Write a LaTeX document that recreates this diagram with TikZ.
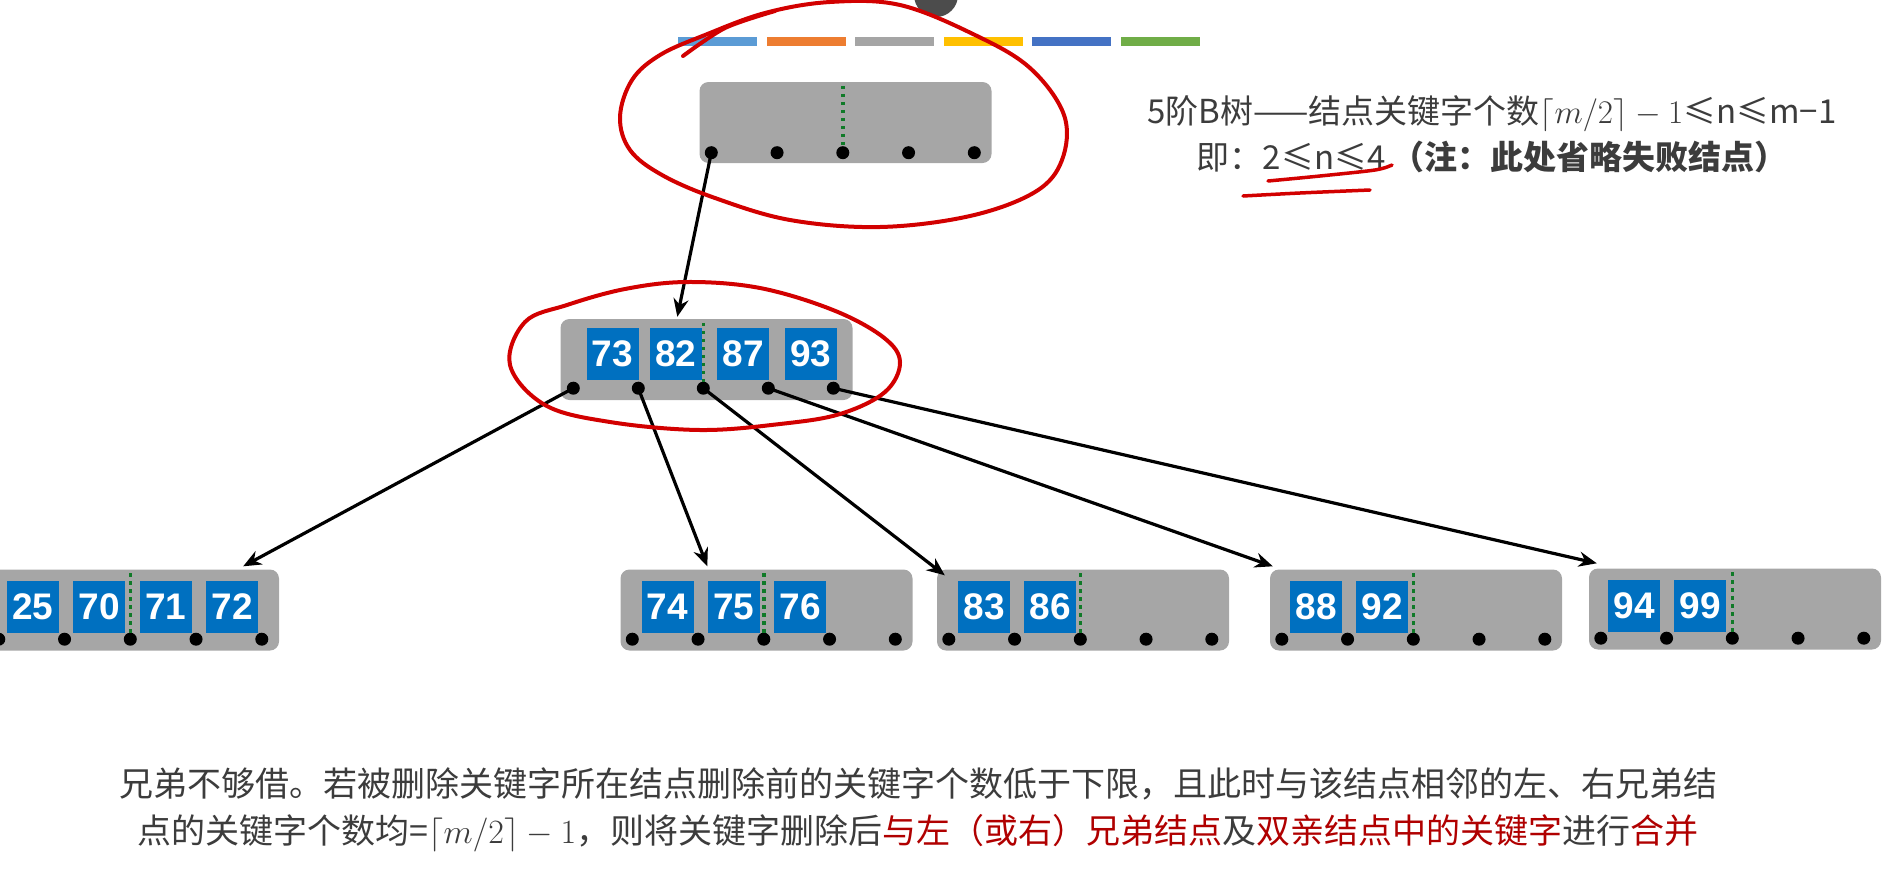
\RequirePackage{fix-cm}
\documentclass[tikz,border=0pt]{standalone}
\usepackage{fontspec}
\setmainfont{Liberation Sans}
\newfontfamily\cjk{Noto Sans CJK SC}
\usepackage{tikz}
\usetikzlibrary{
    arrows.meta,
    positioning,
    calc
}
\definecolor{nodegray}{RGB}{166,166,166}
\definecolor{keyblue}{RGB}{0,112,192}
\definecolor{splitgreen}{RGB}{16,122,40}
\definecolor{inkred}{RGB}{210,0,0}
\definecolor{textdark}{RGB}{60,60,60}
\definecolor{notered}{RGB}{176,0,0}
\definecolor{barA}{RGB}{91,155,213}
\definecolor{barB}{RGB}{237,125,49}
\definecolor{barC}{RGB}{165,165,165}
\definecolor{barD}{RGB}{255,192,0}
\definecolor{barE}{RGB}{68,114,196}
\definecolor{barF}{RGB}{112,173,71}
\tikzstyle{bnode} = [
    rectangle,
    rounded corners=9pt,
    fill=nodegray,
    minimum width=292pt,
    minimum height=81pt,
    inner sep=0pt
]
\tikzstyle{keybox} = [
    rectangle,
    fill=keyblue,
    text=white,
    minimum width=52pt,
    minimum height=52pt,
    inner sep=0pt,
    font=\fontsize{37}{37}\selectfont\bfseries
]
\tikzstyle{ptr} = [
    circle,
    fill=black,
    minimum size=13pt,
    inner sep=0pt
]
\tikzstyle{split} = [
    draw=splitgreen,
    line width=3.5pt,
    dash pattern=on 3.5pt off 4.5pt
]
\tikzstyle{link} = [
    -{Stealth[length=18pt,width=15pt]},
    line width=3.2pt,
    draw=black
]
\tikzstyle{scribble} = [
    draw=inkred,
    line width=4pt,
    line cap=round,
    line join=round
]

\begin{document}
\begin{tikzpicture}[x=1pt, y=-1pt, node distance=14pt]
    \useasboundingbox (0,0) rectangle (1890,892);

    % header strip
    \fill[black!70] (936,-5) circle (22pt);
    \foreach \c [count=\i from 0] in {barA,barB,barC,barD,barE,barF}
        \fill[\c] (678+88.5*\i,37) rectangle (757+88.5*\i,46);

    % root
    \node[bnode] (root) at (845.5,122.5) {};
    \foreach \i in {1,...,5}
        \node[ptr] (root-p\i) at ([xshift={(12+65.75*(\i-1))*1pt}, yshift=10.5pt]root.south west) {};
    \draw[split] ($(root.north -| root-p3)+(0,4)$) -- (root-p3.north);

    % middle level
    \node[bnode] (mid) at (706.5,359.5) {};
    \node[keybox, anchor=north west] (k73) at ([xshift=26pt, yshift=-9pt]mid.north west) {73};
    \node[keybox, right=11pt of k73] (k82) {82};
    \node[keybox, right=15pt of k82] (k87) {87};
    \node[keybox, right=15pt of k87] (k93) {93};
    \foreach \i in {1,...,5}
        \node[ptr] (mid-p\i) at ([xshift={(13+65*(\i-1))*1pt}, yshift=12pt]mid.south west) {};
    \draw[split] ($(mid.north -| mid-p3)+(0,4)$) -- (mid-p3.north);

    % leaves
    \node[bnode] (leafA) at (133,610) {};
    \node[keybox, anchor=north west] (k25) at ([xshift=20pt, yshift=-11pt]leafA.north west) {25};
    \node[keybox, right=of k25] (k70) {70};
    \node[keybox, right=of k70] (k71) {71};
    \node[keybox, right=of k71] (k72) {72};

    \node[bnode] (leafB) at (766.5,610) {};
    \node[keybox, anchor=north west] (k74) at ([xshift=21pt, yshift=-11pt]leafB.north west) {74};
    \node[keybox, right=of k74] (k75) {75};
    \node[keybox, right=of k75] (k76) {76};

    \node[bnode] (leafC) at (1083,610) {};
    \node[keybox, anchor=north west] (k83) at ([xshift=21pt, yshift=-11pt]leafC.north west) {83};
    \node[keybox, right=of k83] (k86) {86};

    \node[bnode] (leafD) at (1416,610) {};
    \node[keybox, anchor=north west] (k88) at ([xshift=20pt, yshift=-11pt]leafD.north west) {88};
    \node[keybox, right=of k88] (k92) {92};

    \node[bnode] (leafE) at (1735,609) {};
    \node[keybox, anchor=north west] (k94) at ([xshift=19pt, yshift=-11pt]leafE.north west) {94};
    \node[keybox, right=of k94] (k99) {99};

    \foreach \n in {leafA,leafB,leafC,leafD,leafE} {
        \foreach \i in {1,...,5}
            \node[ptr] (\n-p\i) at ([xshift={(12+65.75*(\i-1))*1pt}, yshift=11.5pt]\n.south west) {};
        \draw[split] ($(\n.north -| \n-p3)+(0,4)$) -- (\n-p3.north);
    }

    % pointers
    \draw[link] (root-p1.center) -- ([xshift=117pt, yshift=2pt]mid.north west);
    \draw[link] (mid-p1.center) -- ([xshift=-36pt, yshift=3pt]leafA.north east);
    \draw[link] (mid-p2.center) -- ([xshift=87pt, yshift=3pt]leafB.north west);
    \draw[link] (mid-p3.center) -- ([xshift=8pt, yshift=-6pt]leafC.north west);
    \draw[link] (mid-p4.center) -- ([xshift=3pt, yshift=3pt]leafD.north west);
    \draw[link] (mid-p5.center) -- ([xshift=8pt, yshift=5pt]leafE.north west);

    % notes
    \node[font=\cjk\fontsize{33}{46}\selectfont, text=textdark, align=center] (note) at (1492,134)
        {5阶B树——结点关键字个数$\lceil m/2\rceil - 1$≤n≤m−1\\
         即：2≤n≤4\,{\bfseries（注：此处省略失败结点）}};
    \node[font=\cjk\fontsize{34}{47}\selectfont, text=textdark, align=center] (rule) at (918,810)
        {兄弟不够借。若被删除关键字所在结点删除前的关键字个数低于下限，且此时与该结点相邻的左、右兄弟结\\
         点的关键字个数均=$\lceil m/2\rceil - 1$，则将关键字删除后\textcolor{notered}{与左（或右）兄弟结点}及\textcolor{notered}{双亲结点中的关键字}进行\textcolor{notered}{合并}};

    % red marks
    \draw[scribble] plot[smooth cycle, tension=0.6] coordinates {
        (620,117) (632,80) (660,55) (705,35) (765,13) (830,2) (900,5) (975,35)
        (1030,68) (1064,115) (1062,160) (1035,192) (970,216) (880,227) (790,220)
        (715,198) (662,175) (630,150)};
    \draw[scribble] plot[smooth] coordinates {(683,56) (725,28) (775,11)};
    \draw[scribble] plot[smooth cycle, tension=0.6] coordinates {
        (510,365) (525,322) (567,305) (625,289) (687,282) (760,288) (833,310)
        (883,337) (900,362) (885,392) (840,414) (780,424) (700,430) (610,422) (545,405)};
    \draw[scribble, line width=3.5pt] plot[smooth] coordinates {(1268,181) (1320,176) (1375,170) (1392,165)};
    \draw[scribble, line width=3.5pt] plot[smooth] coordinates {(1243,196) (1300,193) (1370,190)};
\end{tikzpicture}
\end{document}
